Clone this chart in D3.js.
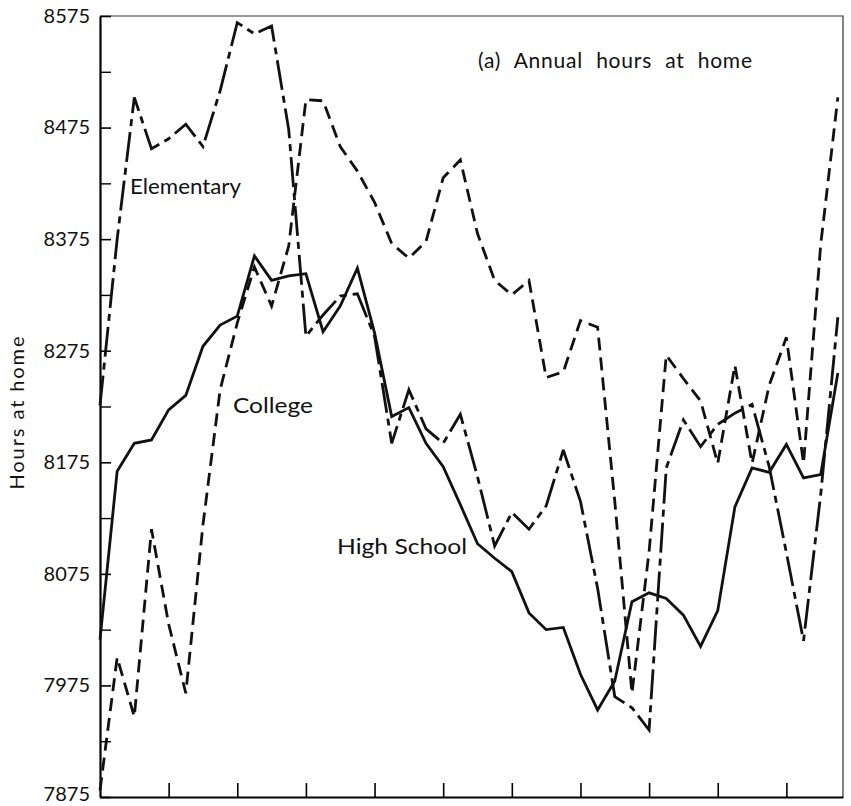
<!DOCTYPE html>
<html>
<head>
<meta charset="utf-8">
<script src="https://cdn.jsdelivr.net/npm/d3@7/dist/d3.min.js"></script>
<style>
  html, body { margin: 0; padding: 0; background: #fff; }
  svg { display: block; }
  text { font-family: Lato, "Open Sans", sans-serif; fill: #111; }
</style>
</head>
<body>
<div id="chart"></div>
<script>
// quarters along x (the original has no x labels), one tick every 4 quarters
const quarters = d3.range(44);
const yearTicks = [4, 8, 12, 16, 20, 24, 28, 32, 36, 40];

// y ticks
const yMajor = [7875, 7975, 8075, 8175, 8275, 8375, 8475, 8575];
const yMinor = [7925, 8025, 8125, 8225, 8325, 8425, 8525];

// annual hours at home
const elementary = [8226, 8375, 8502, 8456, 8465, 8478, 8458, 8508, 8569, 8559,
  8566, 8473, 8288, 8307, 8324, 8326, 8288, 8192, 8240, 8205,
  8192, 8218, 8162, 8100, 8130, 8115, 8136, 8186, 8140, 8062,
  7965, 7955, 7935, 8170, 8213, 8189, 8209, 8219, 8227, 8171,
  8094, 8015, 8146, 8305];

const highSchool = [8016, 8167, 8192, 8195, 8222, 8235, 8279, 8298, 8306, 8360,
  8338, 8342, 8344, 8292, 8315, 8349, 8291, 8216, 8224, 8192,
  8171, 8137, 8102, 8089, 8077, 8040, 8025, 8027, 7985, 7953,
  7979, 8050, 8058, 8053, 8038, 8010, 8042, 8135, 8170, 8166,
  8191, 8161, 8164, 8255];

const college = [7881, 8000, 7947, 8115, 8030, 7968, 8119, 8240, 8300, 8350,
  8315, 8369, 8500, 8499, 8458, 8436, 8408, 8371, 8358, 8373,
  8430, 8446, 8380, 8338, 8325, 8338, 8251, 8256, 8302, 8296,
  8140, 7968, 8095, 8271, 8250, 8230, 8174, 8262, 8174, 8244,
  8287, 8174, 8370, 8502];

const widthValue = 851;
const heightValue = 806;
const margin = {top: 16, bottom: 9, left: 100, right: 8};
const width = widthValue - margin.left - margin.right;
const height = heightValue - margin.top - margin.bottom;

const svg = d3.select("#chart").append("svg")
  .attr("width", widthValue)
  .attr("height", heightValue);

const g = svg.append("g")
  .attr("transform", `translate(${margin.left},${margin.top})`);

const x = d3.scaleLinear().domain([0, 43.3]).range([0, width]);
const y = d3.scaleLinear().domain([7875, 8575]).range([height, 0]);

// thin frame on top and right
g.append("path")
  .attr("d", `M0,0H${width}V${height}`)
  .attr("fill", "none")
  .attr("stroke", "#333")
  .attr("stroke-width", 1.2);

// y axis, ticks pointing inwards
const yAxis = g.append("g")
  .call(d3.axisLeft(y).tickValues(yMajor).tickSizeInner(-11).tickSizeOuter(0)
    .tickPadding(10).tickFormat(d3.format("d")));
yAxis.select(".domain").attr("stroke-width", 2.2);
yAxis.selectAll(".tick line").attr("stroke-width", 1.6);
yAxis.selectAll("text")
  .style("font-size", "20px")
  .attr("fill", "#111");
// keep the bottom label inside the picture
yAxis.selectAll(".tick text").filter(d => d === 7875).attr("y", -3);

const yMinorAxis = g.append("g")
  .call(d3.axisLeft(y).tickValues(yMinor).tickSizeInner(-11).tickSizeOuter(0).tickFormat(""));
yMinorAxis.select(".domain").remove();
yMinorAxis.selectAll(".tick line").attr("stroke-width", 1.4);

// x axis, no labels
const xAxis = g.append("g")
  .attr("transform", `translate(0,${height})`)
  .call(d3.axisBottom(x).tickValues(yearTicks).tickSizeInner(-14).tickSizeOuter(0).tickFormat(""));
xAxis.select(".domain").attr("stroke-width", 2.2);
xAxis.selectAll(".tick line").attr("stroke-width", 1.6);

const line = d3.line()
  .x((d, i) => x(quarters[i]))
  .y(d => y(d));

const series = [
  {name: "College", values: college, dash: "13,7"},
  {name: "Elementary", values: elementary, dash: "30,6,7,6"},
  {name: "High School", values: highSchool, dash: null}
];

g.selectAll(".series")
  .data(series)
  .enter()
  .append("path")
    .attr("class", "series")
    .attr("d", d => line(d.values))
    .attr("fill", "none")
    .attr("stroke", "#111")
    .attr("stroke-width", 2.8)
    .attr("stroke-linejoin", "miter")
    .attr("stroke-miterlimit", 3)
    .attr("stroke-dasharray", d => d.dash);

// series labels
const labels = [
  {text: "Elementary", x: 130, y: 194, w: 111},
  {text: "College", x: 233, y: 413, w: 80},
  {text: "High School", x: 337, y: 554, w: 130}
];
svg.selectAll(".label")
  .data(labels)
  .enter()
  .append("text")
    .attr("class", "label")
    .attr("x", d => d.x)
    .attr("y", d => d.y)
    .attr("textLength", d => d.w)
    .attr("lengthAdjust", "spacingAndGlyphs")
    .style("font-size", "21px")
    .text(d => d.text);

// panel title
svg.append("text")
  .attr("x", 478)
  .attr("y", 68)
  .attr("textLength", 274)
  .attr("lengthAdjust", "spacing")
  .style("font-size", "21px")
  .style("word-spacing", "7px")
  .text("(a) Annual hours at home");

// y axis title
svg.append("text")
  .attr("transform", "translate(24,413) rotate(-90)")
  .attr("text-anchor", "middle")
  .attr("textLength", 153)
  .attr("lengthAdjust", "spacing")
  .style("font-size", "20px")
  .text("Hours at home");
</script>
</body>
</html>
